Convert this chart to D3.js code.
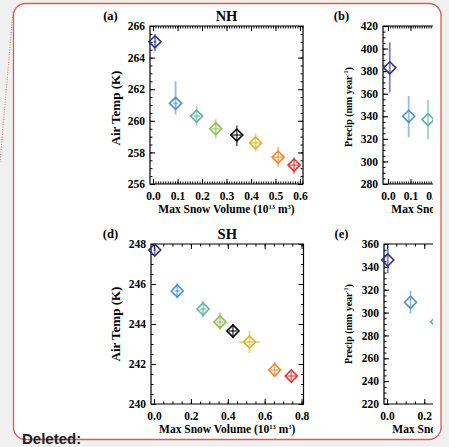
<!DOCTYPE html>
<html><head><meta charset="utf-8">
<script src="https://cdn.jsdelivr.net/npm/d3@7"></script>
<style>
html,body{margin:0;padding:0;background:#f0f0f0;}
svg{display:block;}
</style></head>
<body>
<svg id="chart" width="449" height="447"></svg>
<script>
// ---------------- data ----------------
const binColors = ["#2f2f92", "#4a8fd6", "#5fb59c", "#8dbd4c", "#000000", "#d8b52e", "#ef8a2c", "#e0302c"];

// NH
const nhSnow    = [0.008, 0.092, 0.178, 0.256, 0.342, 0.419, 0.511, 0.576];
const nhSnowErr = [0.006, 0.010, 0.014, 0.018, 0.020, 0.024, 0.027, 0.025];
const nhTemp    = [265.0, 261.1, 260.3, 259.5, 259.1, 258.6, 257.7, 257.2];
const nhTempHi  = [265.5, 262.5, 260.9, 260.1, 259.7, 259.2, 258.35, 257.7];
const nhTempLo  = [264.4, 260.4, 259.7, 258.9, 258.4, 258.05, 257.1, 256.65];
const nhPrecip   = [383, 340, 337];
const nhPrecipHi = [405.5, 358, 354.5];
const nhPrecipLo = [361, 321.5, 319.5];

// SH
const shSnow    = [0.004, 0.126, 0.266, 0.358, 0.428, 0.518, 0.654, 0.744];
const shSnowErr = [0.006, 0.014, 0.018, 0.018, 0.022, 0.056, 0.035, 0.032];
const shTemp    = [247.7, 245.65, 244.75, 244.1, 243.65, 243.1, 241.7, 241.4];
const shTempHi  = [247.87, 246.04, 245.15, 244.57, 243.99, 243.65, 242.09, 241.6];
const shTempLo  = [247.45, 245.29, 244.32, 243.7, 243.29, 242.54, 241.34, 241.2];
const shPrecip   = [346, 309, 292];
const shPrecipHi = [359, 319, 300];
const shPrecipLo = [334.5, 299, 284];

// ticks
const nhXTicks = [0.0, 0.1, 0.2, 0.3, 0.4, 0.5, 0.6];
const shXTicks = [0.0, 0.2, 0.4, 0.6, 0.8];
const nhXTicksCut = [0.0, 0.1, 0.2];
const shXTicksCut = [0.0, 0.2];
const nhTempTicks = [256, 258, 260, 262, 264, 266];
const shTempTicks = [240, 242, 244, 246, 248];
const nhPrecipTicks = [280, 300, 320, 340, 360, 380, 400, 420];
const shPrecipTicks = [220, 240, 260, 280, 300, 320, 340, 360];

// ---------------- drawing ----------------
const svg = d3.select("#chart");
const serif = "'Liberation Serif','Times New Roman',serif";

// comment card
svg.append("path")
  .attr("d", "M13,12 L0,162")
  .attr("stroke", "#e07070").attr("stroke-width", 1).attr("stroke-dasharray", "1,1.5").attr("fill", "none");
svg.append("rect")
  .attr("x", 13.5).attr("y", 3.5).attr("width", 427.5).attr("height", 436)
  .attr("rx", 12).attr("ry", 12)
  .attr("fill", "#ffffff").attr("stroke", "#d95a5a").attr("stroke-width", 1.3);

const clipRight = 433;
svg.append("defs").append("clipPath").attr("id", "clipR")
  .append("rect").attr("x", 0).attr("y", 0).attr("width", clipRight).attr("height", 447);

function range(a, b, step) {
  const out = [];
  for (let v = a; v <= b + 1e-9; v += step) out.push(+v.toFixed(6));
  return out;
}

function panel(cfg) {
  const g = svg.append("g");
  if (cfg.clip) g.attr("clip-path", "url(#clipR)");
  const x = d3.scaleLinear().domain(cfg.xDomain).range([cfg.left, cfg.left + cfg.w]);
  const y = d3.scaleLinear().domain(cfg.yDomain).range([cfg.top + cfg.h, cfg.top]);

  const styleAxis = sel => {
    sel.select(".domain").remove();
    sel.selectAll(".tick line").attr("stroke", "#000").attr("stroke-width", 1);
    sel.selectAll(".tick text").attr("font-family", serif).attr("font-weight", "bold")
      .attr("font-size", 11.5).attr("fill", "#000");
  };
  const xTop = cfg.clip ? Math.min(cfg.xDomain[1], x.invert(clipRight)) : cfg.xDomain[1];
  const xMinor = range(0, xTop, cfg.xMinor).filter(v => v >= cfg.xDomain[0]);
  const yMinor = range(cfg.yDomain[0], cfg.yDomain[1], cfg.yMinor);
  g.append("g").attr("transform", `translate(0,${cfg.top + cfg.h})`)
    .call(d3.axisBottom(x).tickValues(xMinor).tickSize(-2.5).tickFormat("")).call(styleAxis);
  g.append("g").attr("transform", `translate(0,${cfg.top})`)
    .call(d3.axisTop(x).tickValues(xMinor).tickSize(-2.5).tickFormat("")).call(styleAxis);
  g.append("g").attr("transform", `translate(${cfg.left},0)`)
    .call(d3.axisLeft(y).tickValues(yMinor).tickSize(-2.5).tickFormat("")).call(styleAxis);
  if (!cfg.clip) g.append("g").attr("transform", `translate(${cfg.left + cfg.w},0)`)
    .call(d3.axisRight(y).tickValues(yMinor).tickSize(-2.5).tickFormat("")).call(styleAxis);
  g.append("g").attr("transform", `translate(0,${cfg.top + cfg.h})`)
    .call(d3.axisBottom(x).tickValues(cfg.xTicks).tickSize(-5).tickPadding(8).tickFormat(d3.format(".1f")))
    .call(styleAxis);
  g.append("g").attr("transform", `translate(0,${cfg.top})`)
    .call(d3.axisTop(x).tickValues(cfg.xTicks).tickSize(-5).tickFormat("")).call(styleAxis);
  g.append("g").attr("transform", `translate(${cfg.left},0)`)
    .call(d3.axisLeft(y).tickValues(cfg.yTicks).tickSize(-5).tickPadding(5).tickFormat(d3.format("d")))
    .call(styleAxis);
  if (!cfg.clip) g.append("g").attr("transform", `translate(${cfg.left + cfg.w},0)`)
    .call(d3.axisRight(y).tickValues(cfg.yTicks).tickSize(-5).tickFormat("")).call(styleAxis);
  // frame
  const fw = cfg.clip ? clipRight + 2 - cfg.left : cfg.w;
  g.append("path")
    .attr("d", cfg.clip
      ? `M${cfg.left + fw},${cfg.top} H${cfg.left} V${cfg.top + cfg.h} H${cfg.left + fw}`
      : `M${cfg.left},${cfg.top} h${cfg.w} v${cfg.h} h${-cfg.w} Z`)
    .attr("fill", "none").attr("stroke", "#000").attr("stroke-width", 1.2);

  // labels
  g.append("text").attr("x", 110.5 + cfg.labelDx).attr("y", cfg.top - 6)
    .attr("text-anchor", "middle").attr("font-family", serif).attr("font-weight", "bold")
    .attr("font-size", 12.5).text(cfg.tag);
  if (cfg.title) g.append("text").attr("x", cfg.left + cfg.w / 2).attr("y", cfg.top - 5)
    .attr("text-anchor", "middle").attr("font-family", serif).attr("font-weight", "bold")
    .attr("font-size", 14.5).text(cfg.title);
  const xl = g.append("text").attr("x", cfg.left + cfg.w / 2).attr("y", cfg.top + cfg.h + 29)
    .attr("text-anchor", "middle").attr("font-family", serif).attr("font-weight", "bold").attr("font-size", 11.5);
  xl.append("tspan").text("Max Snow Volume (10");
  xl.append("tspan").attr("font-size", 6.5).attr("dy", -4.5).text("13");
  xl.append("tspan").attr("dy", 4.5).text(" m");
  xl.append("tspan").attr("font-size", 6.5).attr("dy", -4.5).text("3");
  xl.append("tspan").attr("dy", 4.5).text(")");
  const yl = g.append("text")
    .attr("transform", `translate(${cfg.left - cfg.yLabelOff},${cfg.top + cfg.h / 2 + cfg.yLabelDy}) rotate(-90)`)
    .attr("text-anchor", "middle").attr("font-family", serif).attr("font-weight", "bold")
    .attr("font-size", cfg.yLabelSize);
  cfg.yLabel(yl);

  // data: error bars then diamonds
  const n = cfg.ys.length;
  const idx = d3.range(n);
  const d = 6;
  g.append("g").selectAll("line").data(idx).join("line")
    .attr("x1", i => x(cfg.xs[i])).attr("x2", i => x(cfg.xs[i]))
    .attr("y1", i => y(cfg.hi[i])).attr("y2", i => y(cfg.lo[i]))
    .attr("stroke", i => binColors[i]).attr("stroke-opacity", 0.6).attr("stroke-width", 1.8);
  if (cfg.xErr) g.append("g").selectAll("line").data(idx).join("line")
    .attr("x1", i => x(cfg.xs[i] - cfg.xErr[i])).attr("x2", i => x(cfg.xs[i] + cfg.xErr[i]))
    .attr("y1", i => y(cfg.ys[i])).attr("y2", i => y(cfg.ys[i]))
    .attr("stroke", i => binColors[i]).attr("stroke-opacity", 0.6).attr("stroke-width", 1.8);
  g.append("g").selectAll("path").data(idx).join("path")
    .attr("d", i => {
      const cx = x(cfg.xs[i]), cy = y(cfg.ys[i]);
      return `M${cx - d},${cy} L${cx},${cy - d} L${cx + d},${cy} L${cx},${cy + d} Z`;
    })
    .attr("fill", "none").attr("stroke", i => binColors[i]).attr("stroke-width", 1.6);
}

const tempLabel = t => { t.text("Air Temp (K)"); };
const precipLabel = t => {
  t.append("tspan").text("Precip (mm year");
  t.append("tspan").attr("font-size", 6).attr("dy", -4).text("-1");
  t.append("tspan").attr("dy", 4).text(")");
};

panel({ left: 150, top: 26, w: 153, h: 158, xDomain: [-0.0125, 0.6125], yDomain: [256, 266],
  xTicks: nhXTicks, yTicks: nhTempTicks, xMinor: 0.01, yMinor: 0.5, tag: "(a)", labelDx: 0, title: "NH",
  yLabel: tempLabel, yLabelSize: 13, yLabelOff: 30, yLabelDy: 3,
  xs: nhSnow, ys: nhTemp, hi: nhTempHi, lo: nhTempLo, xErr: nhSnowErr });

panel({ left: 383, top: 26, w: 153, h: 158, xDomain: [-0.0222, 0.658], yDomain: [280, 420],
  xTicks: nhXTicksCut, yTicks: nhPrecipTicks, xMinor: 0.01, yMinor: 5, tag: "(b)", labelDx: 231, title: null, clip: true,
  yLabel: precipLabel, yLabelSize: 10, yLabelOff: 31, yLabelDy: 2,
  xs: nhSnow.slice(0, 3), ys: nhPrecip, hi: nhPrecipHi, lo: nhPrecipLo, xErr: null });

panel({ left: 151, top: 244, w: 152.5, h: 160, xDomain: [-0.01625, 0.8105], yDomain: [240, 248],
  xTicks: shXTicks, yTicks: shTempTicks, xMinor: 0.05, yMinor: 0.5, tag: "(d)", labelDx: 0, title: "SH",
  yLabel: tempLabel, yLabelSize: 13, yLabelOff: 31, yLabelDy: 0,
  xs: shSnow, ys: shTemp, hi: shTempHi, lo: shTempLo, xErr: shSnowErr });

panel({ left: 384, top: 244, w: 153, h: 160, xDomain: [-0.0162, 0.805], yDomain: [220, 360],
  xTicks: shXTicksCut, yTicks: shPrecipTicks, xMinor: 0.05, yMinor: 5, tag: "(e)", labelDx: 231, title: null, clip: true,
  yLabel: precipLabel, yLabelSize: 10, yLabelOff: 32, yLabelDy: 0,
  xs: shSnow.slice(0, 3), ys: shPrecip, hi: shPrecipHi, lo: shPrecipLo, xErr: null });

svg.append("text").attr("x", 22).attr("y", 444)
  .attr("font-family", "'Liberation Sans',Arial,sans-serif").attr("font-weight", "bold")
  .attr("font-size", 15).attr("fill", "#222").text("Deleted:");
</script>
</body></html>
